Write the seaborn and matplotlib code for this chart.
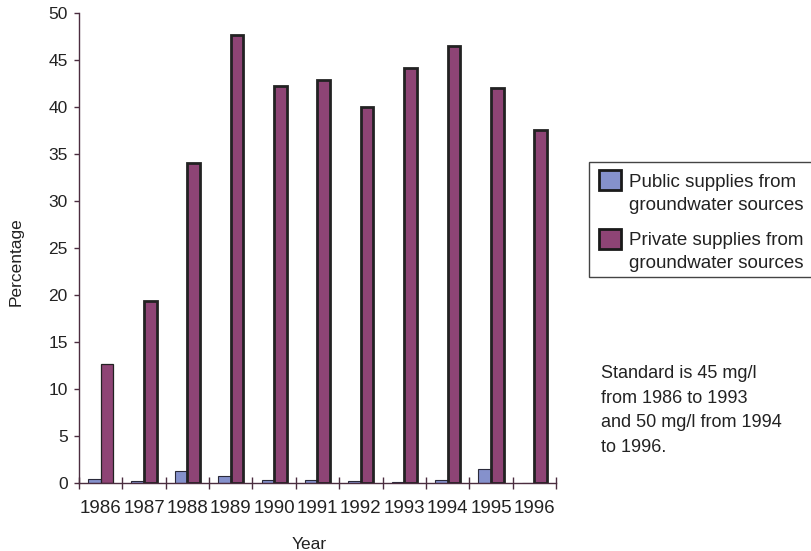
import matplotlib
matplotlib.use("Agg")
import matplotlib.pyplot as plt
import seaborn as sns
import pandas as pd
from matplotlib.patches import Rectangle

years = ["1986", "1987", "1988", "1989", "1990", "1991", "1992", "1993", "1994", "1995", "1996"]
public = [0.4, 0.2, 1.3, 0.75, 0.3, 0.3, 0.2, 0.1, 0.3, 1.45, 0.0]
private = [12.7, 19.4, 34.0, 47.7, 42.2, 42.9, 40.0, 44.2, 46.5, 42.05, 37.55]
series_names = ["Public supplies from groundwater sources",
                "Private supplies from groundwater sources"]
legend_lines = [["Public supplies from", "groundwater sources"],
                ["Private supplies from", "groundwater sources"]]
note_lines = ["Standard is 45 mg/l", "from 1986 to 1993", "and 50 mg/l from 1994", "to 1996."]
colors = ["#8591cc", "#8e4475"]
yticks = [0, 5, 10, 15, 20, 25, 30, 35, 40, 45, 50]

df = pd.DataFrame({
    "Year": years * 2,
    "Percentage": public + private,
    "Series": [series_names[0]] * len(years) + [series_names[1]] * len(years),
})

sns.set_theme(style="white")
plt.rcParams["font.family"] = ["Liberation Sans", "DejaVu Sans"]

W, H = 812, 551
fig = plt.figure(figsize=(W / 100, H / 100), dpi=100)
ax = fig.add_axes([79 / W, 1 - 483 / H, (556 - 79) / W, (483 - 13) / H])

sns.barplot(data=df, x="Year", y="Percentage", hue="Series", order=years,
            hue_order=series_names, palette=colors, width=0.58, dodge=True,
            saturation=1, ax=ax, legend=False)

for bar in ax.containers[0]:
    bar.set_edgecolor("#2a2a3a")
    bar.set_linewidth(0.8)
for i, bar in enumerate(ax.containers[1]):
    bar.set_edgecolor("#222222")
    bar.set_linewidth(0.9 if i == 0 else 2.0)

text_col = "#222222"
spine_col = "#4b2d3f"
ax.set_ylim(0, 50)
ax.set_xlim(-0.5, len(years) - 0.5)
ax.set_yticks(yticks)
ax.set_yticklabels([str(v) for v in yticks], fontsize=12.5)
ax.set_xticks([i - 0.5 for i in range(len(years) + 1)])
ax.set_xticklabels([""] * (len(years) + 1))
ax.set_xticks(range(len(years)), minor=True)
ax.set_xticklabels(years, minor=True, fontsize=13.5)
ax.tick_params(axis="x", which="major", direction="inout", length=8, width=1, color=spine_col, bottom=True)
ax.tick_params(axis="x", which="minor", length=0, pad=12, labelcolor=text_col)
ax.tick_params(axis="y", direction="out", length=3.6, width=1, color=spine_col, left=True,
               labelcolor=text_col, pad=4.5)

for s in ["top", "right"]:
    ax.spines[s].set_visible(False)
for s in ["left", "bottom"]:
    ax.spines[s].set_color(spine_col)
    ax.spines[s].set_linewidth(1.0)

ax.set_xlabel("")
ax.set_ylabel("")
fig.text(309 / W, 1 - 549 / H, "Year", fontsize=12.5, color=text_col, ha="center", va="baseline")
fig.text(16 / W, 1 - 262 / H, "Percentage", fontsize=12.5, color=text_col, ha="center",
         va="center", rotation=90)

# legend box drawn in figure pixels
def px(x, y):
    return x / W, 1 - y / H

fig.patches.append(Rectangle(px(589, 277), (W + 5 - 589) / W, (277 - 162) / H,
                             transform=fig.transFigure, facecolor="white",
                             edgecolor="#444444", linewidth=1.0, clip_on=False))
handle_tops = [170, 229]
text_baselines = [[187, 210], [245, 268]]
for k in range(2):
    fig.patches.append(Rectangle(px(599, handle_tops[k] + 20), 22 / W, 20 / H,
                                 transform=fig.transFigure, facecolor=colors[k],
                                 edgecolor="#1a1a1a", linewidth=2.0))
    for line, yb in zip(legend_lines[k], text_baselines[k]):
        fig.text(*px(629, yb), line, fontsize=13.5, color=text_col, ha="left", va="baseline")

for line, yb in zip(note_lines, [378, 403, 427, 452]):
    fig.text(*px(601, yb), line, fontsize=13, color=text_col, ha="left", va="baseline")

fig.savefig("out.png", dpi=100)
